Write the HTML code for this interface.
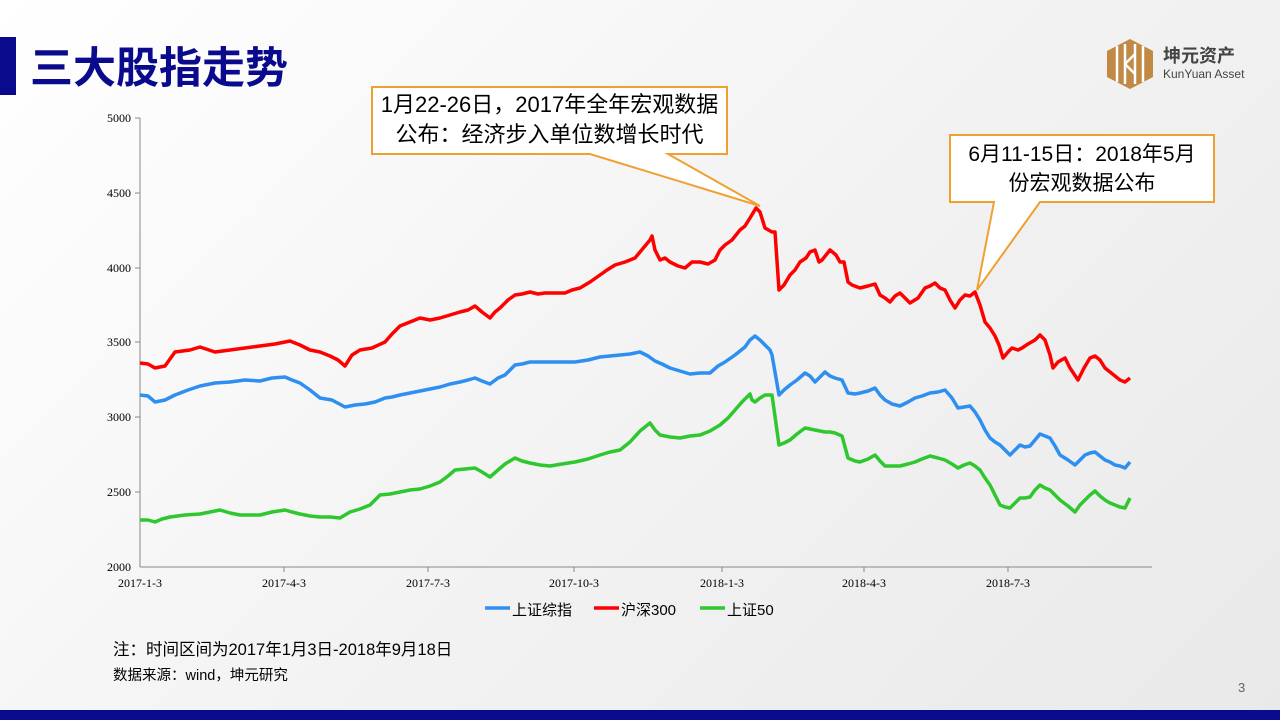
<!DOCTYPE html>
<html><head><meta charset="utf-8"><style>
body{margin:0;width:1280px;height:720px;overflow:hidden;background:linear-gradient(135deg,#ffffff 0%,#f3f3f3 50%,#e9e9e9 100%);font-family:"Liberation Sans","Noto Sans CJK SC",sans-serif;position:relative}
.t{position:absolute;white-space:nowrap}
</style></head><body>
<div style="position:absolute;left:0;top:37px;width:16px;height:58px;background:#0a0a8c"></div>
<div class="t" style="left:30px;top:42px;font-size:43px;font-weight:bold;color:#0a0a8c;line-height:54px">三大股指走势</div>
<svg style="position:absolute;left:1105px;top:38px" width="50" height="52" viewBox="0 0 50 52">
<polygon points="25,1 48,13 48,39 25,51 2,39 2,13" fill="#c08a44"/>
<g stroke="#fff" stroke-width="2.5"><line x1="12" y1="8" x2="12" y2="44"/><line x1="20" y1="6" x2="20" y2="46"/><line x1="30" y1="6" x2="30" y2="46"/><line x1="38" y1="8" x2="38" y2="44"/><line x1="20" y1="26" x2="30" y2="16"/><line x1="20" y1="26" x2="30" y2="36"/></g>
</svg>
<div class="t" style="left:1163px;top:42px;font-size:18px;font-weight:bold;color:#444">坤元资产</div>
<div class="t" style="left:1163px;top:67px;font-size:12px;color:#444">KunYuan Asset</div>

<svg style="position:absolute;left:0;top:0" width="1280" height="720">
<g font-family="Liberation Serif,serif" font-size="12" fill="#000">
<text x="131" y="122" text-anchor="end">5000</text>
<text x="131" y="197" text-anchor="end">4500</text>
<text x="131" y="272" text-anchor="end">4000</text>
<text x="131" y="346" text-anchor="end">3500</text>
<text x="131" y="421" text-anchor="end">3000</text>
<text x="131" y="496" text-anchor="end">2500</text>
<text x="131" y="571" text-anchor="end">2000</text>
<text x="140" y="587" text-anchor="middle">2017-1-3</text>
<text x="284" y="587" text-anchor="middle">2017-4-3</text>
<text x="428" y="587" text-anchor="middle">2017-7-3</text>
<text x="574" y="587" text-anchor="middle">2017-10-3</text>
<text x="722" y="587" text-anchor="middle">2018-1-3</text>
<text x="864" y="587" text-anchor="middle">2018-4-3</text>
<text x="1008" y="587" text-anchor="middle">2018-7-3</text>
</g>
<g stroke="#888" stroke-width="1">
<line x1="140" y1="118" x2="140" y2="567"/><line x1="140" y1="567" x2="1152" y2="567"/>
<line x1="135" y1="118" x2="140" y2="118"/><line x1="135" y1="193" x2="140" y2="193"/><line x1="135" y1="268" x2="140" y2="268"/><line x1="135" y1="342" x2="140" y2="342"/><line x1="135" y1="417" x2="140" y2="417"/><line x1="135" y1="492" x2="140" y2="492"/>
<line x1="284" y1="567" x2="284" y2="572"/><line x1="428" y1="567" x2="428" y2="572"/><line x1="574" y1="567" x2="574" y2="572"/><line x1="722" y1="567" x2="722" y2="572"/><line x1="864" y1="567" x2="864" y2="572"/><line x1="1008" y1="567" x2="1008" y2="572"/>
</g>
<g fill="none" stroke-width="3.5" stroke-linejoin="round">
<polyline stroke="#ff0000" points="140,363 148,364 155,368 165,366 175,352 190,350 200,347 215,352 230,350 245,348 260,346 275,344 290,341 300,345 310,350 320,352 330,356 338,360 345,366 352,355 360,350 372,348 385,342 392,334 400,326 410,322 420,318 430,320 440,318 450,315 460,312 468,310 475,306 482,312 490,318 495,312 500,308 508,300 515,295 522,294 530,292 538,294 545,293 555,293 565,293 572,290 580,288 590,282 600,275 607,270 615,265 625,262 635,258 640,252 645,246 650,240 652,236 655,250 660,260 665,258 670,262 678,266 685,268 692,262 700,262 708,264 715,260 720,250 725,245 732,240 740,230 745,226 750,218 756,208 760,212 765,228 772,232 775,232 779,290 784,285 790,275 795,270 800,262 806,258 810,252 815,250 819,262 822,260 826,255 830,250 836,255 840,262 844,262 848,282 852,285 860,288 868,286 875,284 880,295 885,298 890,302 895,296 900,293 905,298 910,303 918,298 925,288 930,286 935,283 940,288 945,290 950,300 955,308 960,300 965,295 970,296 975,292 980,305 985,322 990,328 995,336 999,345 1003,358 1008,352 1012,348 1018,350 1022,348 1028,344 1035,340 1040,335 1045,340 1050,355 1053,368 1058,362 1065,358 1070,368 1078,380 1084,368 1090,358 1095,356 1100,360 1105,368 1110,372 1115,376 1120,380 1125,382 1130,378"/>
<polyline stroke="#2e8ff0" points="140,395 148,396 155,402 165,400 175,395 188,390 200,386 215,383 230,382 245,380 260,381 272,378 285,377 292,380 300,383 310,390 320,398 332,400 345,407 355,405 365,404 375,402 385,398 392,397 400,395 410,393 420,391 430,389 440,387 450,384 460,382 468,380 475,378 482,381 490,384 498,378 505,375 510,370 515,365 522,364 530,362 540,362 550,362 562,362 575,362 588,360 600,357 610,356 620,355 630,354 640,352 648,356 655,361 662,364 670,368 680,371 690,374 700,373 710,373 718,366 725,362 735,355 745,347 750,340 755,336 760,340 765,345 770,350 772,355 779,395 784,390 790,385 797,380 805,373 810,376 815,382 820,377 825,372 830,376 835,378 842,380 848,393 855,394 860,393 868,391 875,388 880,395 885,400 892,404 900,406 908,402 915,398 922,396 930,393 938,392 945,390 952,398 958,408 964,407 970,406 975,412 980,420 985,430 990,438 995,442 1000,445 1005,450 1010,455 1015,450 1020,445 1025,447 1030,446 1035,440 1040,434 1045,436 1050,438 1055,446 1060,455 1068,460 1075,465 1080,460 1085,455 1090,453 1095,452 1100,456 1105,460 1110,462 1115,465 1120,466 1125,468 1130,462"/>
<polyline stroke="#2ec82e" points="140,520 148,520 155,522 162,519 170,517 185,515 200,514 210,512 220,510 230,513 240,515 250,515 260,515 272,512 285,510 292,512 300,514 310,516 320,517 330,517 340,518 345,515 350,512 360,509 370,505 375,500 380,495 390,494 400,492 410,490 420,489 430,486 440,482 448,476 455,470 465,469 475,468 482,472 490,477 498,470 505,464 510,461 515,458 522,461 530,463 540,465 550,466 562,464 575,462 588,459 600,455 610,452 620,450 630,442 640,431 645,427 650,423 655,430 660,435 670,437 680,438 690,436 700,435 710,431 720,425 728,418 735,410 742,402 750,394 752,400 755,402 760,398 765,395 770,395 772,395 779,445 784,443 790,440 797,434 805,428 810,429 815,430 820,431 825,432 830,432 835,433 842,436 848,458 855,461 860,462 868,459 875,455 880,461 885,466 892,466 900,466 908,464 915,462 922,459 930,456 938,458 945,460 952,464 958,468 964,465 970,463 975,466 980,470 985,478 990,485 995,495 1000,505 1005,507 1010,508 1015,503 1020,498 1025,498 1030,497 1035,490 1040,485 1045,488 1050,490 1055,495 1060,500 1068,506 1075,512 1080,505 1085,500 1090,495 1095,491 1100,496 1105,500 1110,503 1115,505 1120,507 1125,508 1130,498"/>
</g>
<path d="M372,87 H727 V154 H668 L760,206 L590,154 H372 Z" fill="#fff" stroke="#f0a030" stroke-width="2"/>
<path d="M950,135 H1214 V202 H1040 L977,290 L994,202 H950 Z" fill="#fff" stroke="#f0a030" stroke-width="2"/>
<g stroke-width="3.5"><line x1="485" y1="608" x2="510" y2="608" stroke="#2e8ff0"/><line x1="594" y1="608" x2="619" y2="608" stroke="#ff0000"/><line x1="700" y1="608" x2="725" y2="608" stroke="#2ec82e"/></g>
</svg>
<div class="t" style="left:372px;top:90px;width:355px;text-align:center;font-size:22px;line-height:30px;color:#000">1月22-26日，2017年全年宏观数据<br>公布：经济步入单位数增长时代</div>
<div class="t" style="left:950px;top:140px;width:264px;text-align:center;font-size:21px;line-height:29px;color:#000">6月11-15日：2018年5月<br>份宏观数据公布</div>
<div class="t" style="left:512px;top:599px;font-size:15px;color:#000">上证综指</div>
<div class="t" style="left:621px;top:599px;font-size:15px;color:#000">沪深300</div>
<div class="t" style="left:727px;top:599px;font-size:15px;color:#000">上证50</div>
<div class="t" style="left:113px;top:636px;font-size:16.5px;color:#000">注：时间区间为2017年1月3日-2018年9月18日</div>
<div class="t" style="left:113px;top:664px;font-size:14.5px;color:#000">数据来源：wind，坤元研究</div>
<div class="t" style="left:1238px;top:680px;font-size:13px;color:#666">3</div>
<div style="position:absolute;left:0;top:710px;width:1280px;height:10px;background:#0a0a8c"></div>
</body></html>
